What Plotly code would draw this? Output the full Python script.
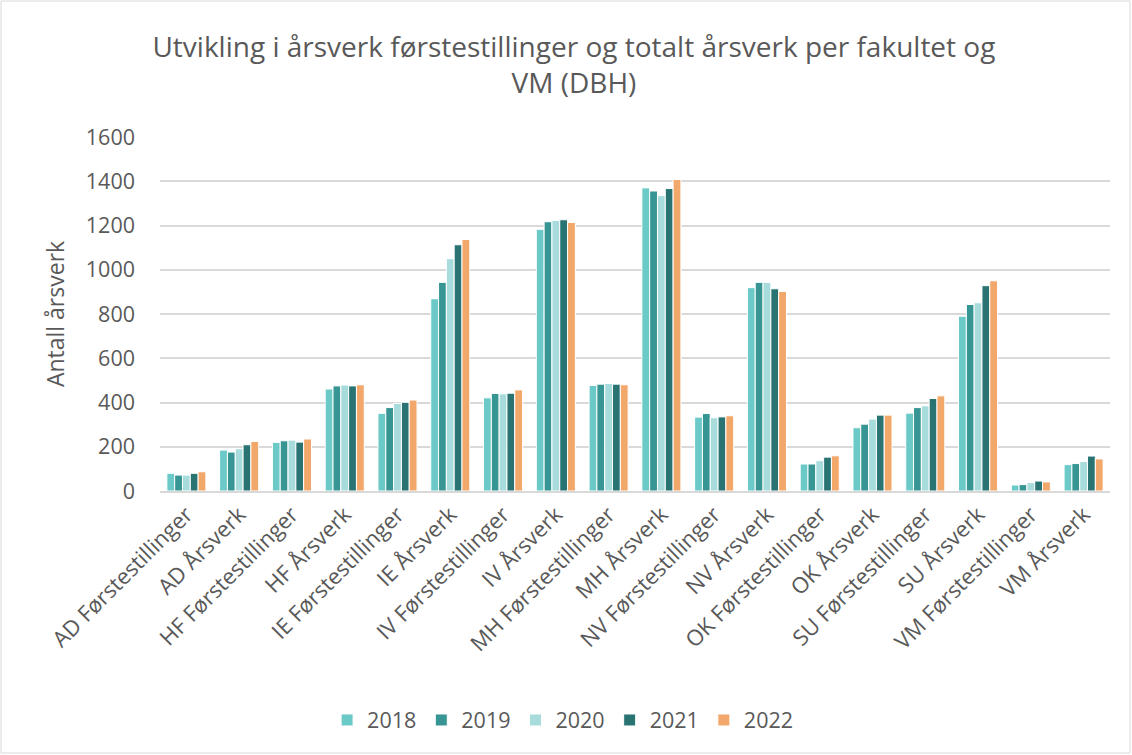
import plotly.graph_objects as go

categories = ["AD Førstestillinger", "AD Årsverk", "HF Førstestillinger", "HF Årsverk",
              "IE Førstestillinger", "IE Årsverk", "IV Førstestillinger", "IV Årsverk",
              "MH Førstestillinger", "MH Årsverk", "NV Førstestillinger", "NV Årsverk",
              "OK Førstestillinger", "OK Årsverk", "SU Førstestillinger", "SU Årsverk",
              "VM Førstestillinger", "VM Årsverk"]
years = ["2018", "2019", "2020", "2021", "2022"]
v2018 = [80, 185, 220, 461, 351, 869, 421, 1183, 477, 1370, 334, 919, 122, 286, 352, 790, 27, 119]
v2019 = [72, 176, 227, 475, 377, 943, 441, 1217, 483, 1356, 350, 943, 122, 302, 377, 843, 29, 124]
v2020 = [72, 191, 230, 479, 396, 1050, 439, 1223, 486, 1335, 331, 943, 137, 325, 385, 851, 38, 133]
v2021 = [80, 209, 221, 475, 401, 1113, 442, 1226, 483, 1367, 335, 914, 153, 343, 418, 928, 45, 158]
v2022 = [87, 224, 235, 480, 411, 1137, 457, 1214, 480, 1408, 340, 902, 159, 343, 430, 950, 41, 145]
series = [v2018, v2019, v2020, v2021, v2022]
colors = ["#6BC9C8", "#379594", "#A8DCDC", "#297373", "#F2A76B"]

FONT = "Open Sans"
TXT = "#595959"

fig = go.Figure()
for y, vals, c in zip(years, series, colors):
    fig.add_trace(go.Bar(name=y, x=categories, y=vals, marker_color=c,
                         marker_line_color="white", marker_line_width=1))

W, H = 1132, 755
L, R, T, B = 160, 22, 137, 264
pw, ph = W - L - R, H - T - B

fig.update_layout(
    width=W, height=H,
    margin=dict(l=L, r=R, t=T, b=B),
    paper_bgcolor="white", plot_bgcolor="white",
    barmode="group", bargap=0.26, bargroupgap=0,
    font=dict(family=FONT, color=TXT, size=21),
    title=dict(text="Utvikling i årsverk førstestillinger og totalt årsverk per fakultet og<br>VM (DBH)",
               x=0.507, xref="container", xanchor="center",
               y=1 - 57 / H, yref="container", yanchor="top",
               font=dict(family=FONT, size=28, color=TXT)),
    yaxis=dict(range=[0, 1600], dtick=200, showgrid=True, gridcolor="#D9D9D9", gridwidth=2,
               zeroline=False, showline=False, ticks="", ticklen=0, ticklabelstandoff=24,
               title=dict(text="Antall årsverk", font=dict(size=23, color=TXT), standoff=14),
               tickfont=dict(size=21.5, color=TXT)),
    xaxis=dict(tickangle=-45, tickfont=dict(size=22, color=TXT), showline=True,
               linecolor="#D9D9D9", linewidth=2, ticks=""),
    legend=dict(orientation="h", xref="container", x=0.497, xanchor="center",
                yref="container", y=1 - 720 / H, yanchor="middle",
                font=dict(size=21.5, color=TXT), itemwidth=30, traceorder="normal"),
    shapes=[dict(type="rect", xref="paper", yref="paper",
                 x0=(1 - L) / pw, x1=(W - 2 - L) / pw,
                 y0=-(H - 2 - T - ph) / ph, y1=1 + (T - 1) / ph,
                 line=dict(color="#D9D9D9", width=1), fillcolor="rgba(0,0,0,0)", layer="below")],
)

fig.write_html("out.html", config={"displayModeBar": False},
               post_script="document.body.style.margin='0px';")
